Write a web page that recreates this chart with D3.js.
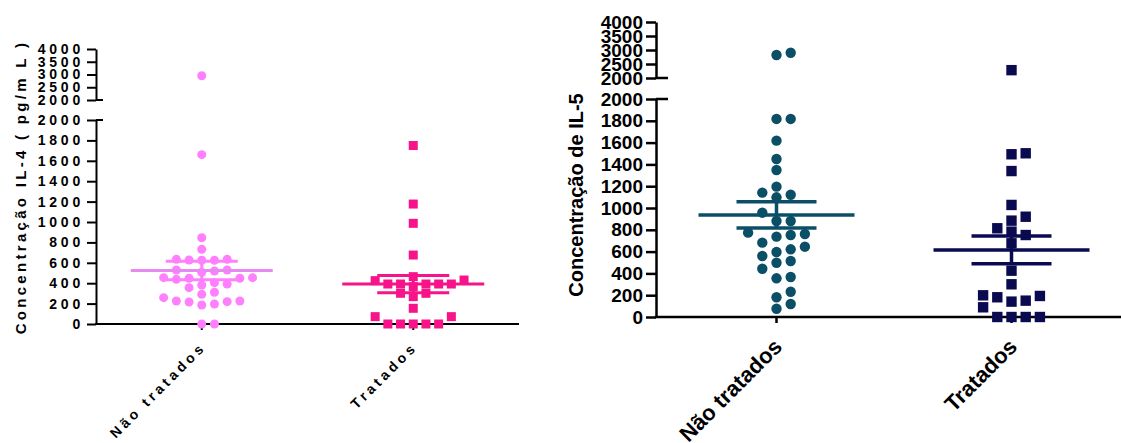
<!DOCTYPE html>
<html>
<head>
<meta charset="utf-8">
<script src="https://cdn.jsdelivr.net/npm/d3@7"></script>
<style>
  body { margin: 0; background: #fff; }
  svg { display: block; }
</style>
</head>
<body>
<div id="chart"></div>
<script>
// DATA
const categories = ["Não tratados", "Tratados"]
// IL-4 (pg/mL)
const il4Untreated = [2950, 1660, 846, 732, 634, 627, 625, 625, 634, 529, 520, 507, 529,
  454, 448, 448, 454, 438, 405, 382, 392, 356, 311, 291, 225, 219, 196, 186, 216, 225, 258, 0, 0]
const il4Treated = [1750, 1176, 987, 676, 392, 392, 392, 425, 431, 464, 366, 392, 392,
  301, 268, 301, 154, 72, 72, 0, 0, 0, 0, 0]
// IL-5
const il5Untreated = [2900, 2820, 1817, 1817, 1618, 1450, 1349, 1196, 1122, 1141, 1098, 957,
  881, 881, 761, 737, 774, 752, 645, 682, 621, 596, 560, 514, 443, 498, 355, 367, 232, 181, 76, 119]
const il5Treated = [2280, 1493, 1502, 1339, 1028, 884, 920, 814, 783, 752, 676, 425, 300,
  193, 89, 150, 141, 181, 199, 0, 0, 0, 0]
// Tick labels for the two segments of the broken y axis
const lowTicks = [0, 200, 400, 600, 800, 1000, 1200, 1400, 1600, 1800, 2000]
const highTicks = [2000, 2500, 3000, 3500, 4000]

const W = 1121, H = 443
const font = "'Liberation Sans', Arial, sans-serif"

const svg = d3.select("#chart").append("svg").attr("width", W).attr("height", H)
svg.append("rect").attr("width", W).attr("height", H).attr("fill", "#fff")

// Panel settings (layout only)
const panels = [
  {
    yAxisX: 96, xEnd: 519, bandRange: [96, 519],
    y0: 324, yLowTop: 120, yHighBottom: 100, yTop: 49,
    series: [il4Untreated, il4Treated],
    shapes: ["circle", "square"],
    colors: ["#FF80FF", "#F7148A"], meanColors: ["#E68AF2", "#F7148A"],
    markSize: 9, step: 12.7, meanHalf: 71, semHalf: 36, lineW: 3, axisW: 2,
    tickFont: 14, tickSpacing: 3.8, tickLen: 9, capLen: 7,
    title: "Concentração IL-4 ( pg/m L )", titleFont: 15, titleSpacing: 3.3, titleX: 26, titleY: 187,
    labelFont: 14, labelSpacing: 3.6, labelDx: 5, labelDy: 24
  },
  {
    yAxisX: 656, xEnd: 1121, bandRange: [659, 1129],
    y0: 317, yLowTop: 99, yHighBottom: 78, yTop: 22,
    series: [il5Untreated, il5Treated],
    shapes: ["circle", "square"],
    colors: ["#0B4F66", "#0A0A50"], meanColors: ["#0B4F66", "#0A0A50"],
    markSize: 10.4, step: 14.2, meanHalf: 78, semHalf: 40, lineW: 3.5, axisW: 2.5,
    tickFont: 19, tickSpacing: 0, tickLen: 10, capLen: 12,
    title: "Concentração de IL-5", titleFont: 20, titleSpacing: 0, titleX: 583, titleY: 195,
    labelFont: 22, labelSpacing: 0, labelDx: 7, labelDy: 31
  }
]

// Simple beeswarm: points sorted by value, pushed sideways in column steps until free
function swarm(values, yOf, step, minGap) {
  const placed = []
  values.map(v => ({ v, y: yOf(v) }))
    .sort((a, b) => a.v - b.v)
    .forEach(p => {
      for (let k = 0; ; k++) {
        const off = k === 0 ? 0 : (k % 2 ? Math.ceil(k / 2) : -k / 2)
        const x = off * step
        const hit = placed.some(q => q.x === x && Math.abs(q.y - p.y) < minGap)
        if (!hit) { p.x = x; placed.push(p); break }
      }
    })
  return placed
}

panels.forEach(p => {
  const g = svg.append("g")

  // broken y scale: two linear pieces
  const yLow = d3.scaleLinear().domain([0, 2000]).range([p.y0, p.yLowTop])
  const yHigh = d3.scaleLinear().domain([2000, 4000]).range([p.yHighBottom, p.yTop])
  const yOf = v => v <= 2000 ? yLow(v) : yHigh(v)

  const x = d3.scaleBand().domain(categories).range(p.bandRange)

  // y axis, lower segment
  const axLow = g.append("g").attr("transform", `translate(${p.yAxisX},0)`)
    .call(d3.axisLeft(yLow).tickValues(lowTicks).tickFormat(d3.format("d"))
      .tickSize(p.tickLen).tickSizeOuter(0).tickPadding(3))
  // y axis, upper segment
  const axHigh = g.append("g").attr("transform", `translate(${p.yAxisX},0)`)
    .call(d3.axisLeft(yHigh).tickValues(highTicks).tickFormat(d3.format("d"))
      .tickSize(p.tickLen).tickSizeOuter(0).tickPadding(3))

  ;[axLow, axHigh].forEach(ax => {
    ax.selectAll("path, line").attr("stroke", "#000").attr("stroke-width", p.axisW)
    ax.selectAll("text")
      .attr("font-family", font).attr("font-weight", "bold")
      .attr("font-size", p.tickFont).attr("fill", "#000")
      .style("letter-spacing", p.tickSpacing + "px")
  })

  // break caps
  g.append("line").attr("x1", p.yAxisX).attr("x2", p.yAxisX + p.capLen)
    .attr("y1", p.yLowTop).attr("y2", p.yLowTop).attr("stroke", "#000").attr("stroke-width", p.axisW)
  g.append("line").attr("x1", p.yAxisX).attr("x2", p.yAxisX + p.capLen)
    .attr("y1", p.yHighBottom).attr("y2", p.yHighBottom).attr("stroke", "#000").attr("stroke-width", p.axisW)

  // x axis
  g.append("line").attr("x1", p.yAxisX - p.axisW / 2).attr("x2", p.xEnd)
    .attr("y1", p.y0).attr("y2", p.y0).attr("stroke", "#000").attr("stroke-width", p.axisW)
  const axX = g.append("g").attr("transform", `translate(0,${p.y0})`)
    .call(d3.axisBottom(x).tickSize(6).tickSizeOuter(0))
  axX.select(".domain").remove()
  axX.selectAll("line").attr("stroke", "#000").attr("stroke-width", p.axisW)
  axX.selectAll("text").remove()

  categories.forEach(c => {
    g.append("text")
      .attr("transform", `translate(${x(c) + x.bandwidth() / 2 + p.labelDx},${p.y0 + p.labelDy}) rotate(-45)`)
      .attr("text-anchor", "end")
      .attr("font-family", font).attr("font-weight", "bold")
      .attr("font-size", p.labelFont)
      .style("letter-spacing", p.labelSpacing + "px")
      .text(c)
  })

  // y title
  g.append("text")
    .attr("transform", `translate(${p.titleX},${p.titleY}) rotate(-90)`)
    .attr("text-anchor", "middle")
    .attr("font-family", font).attr("font-weight", "bold")
    .attr("font-size", p.titleFont)
    .style("letter-spacing", p.titleSpacing + "px")
    .text(p.title)

  // points, mean and SEM
  p.series.forEach((vals, i) => {
    const cx = x(categories[i]) + x.bandwidth() / 2
    const pts = swarm(vals, yOf, p.step, p.markSize)
    const col = p.colors[i]
    const s = p.markSize
    if (p.shapes[i] === "circle") {
      g.selectAll(null).data(pts).enter().append("circle")
        .attr("cx", d => cx + d.x).attr("cy", d => d.y).attr("r", s / 2).attr("fill", col)
    } else {
      g.selectAll(null).data(pts).enter().append("rect")
        .attr("x", d => cx + d.x - s / 2).attr("y", d => d.y - s / 2)
        .attr("width", s).attr("height", s).attr("fill", col)
    }

    const mean = d3.mean(vals)
    const sem = d3.deviation(vals) / Math.sqrt(vals.length)
    const lg = g.append("g").attr("stroke-width", p.lineW)
    lg.append("line").attr("x1", cx - p.meanHalf).attr("x2", cx + p.meanHalf)
      .attr("y1", yLow(mean)).attr("y2", yLow(mean)).attr("stroke", p.meanColors[i])
    lg.append("line").attr("x1", cx).attr("x2", cx)
      .attr("y1", yLow(mean + sem)).attr("y2", yLow(mean - sem)).attr("stroke", col)
    ;[mean + sem, mean - sem].forEach(v => {
      lg.append("line").attr("x1", cx - p.semHalf).attr("x2", cx + p.semHalf)
        .attr("y1", yLow(v)).attr("y2", yLow(v)).attr("stroke", col)
    })
  })
})
</script>
</body>
</html>
